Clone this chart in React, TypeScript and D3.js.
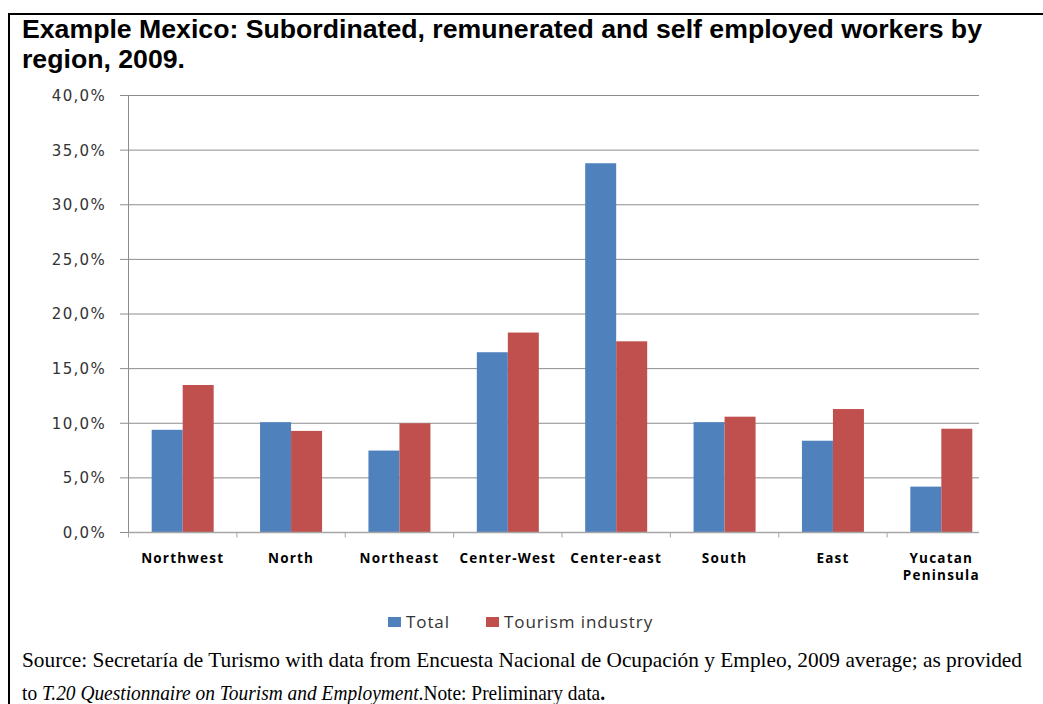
import React from "react";
import * as d3 from "d3";

const categories = ["Northwest", "North", "Northeast", "Center-West", "Center-east", "South", "East", "Yucatan Peninsula"];
const totalValues = [9.4, 10.1, 7.5, 16.5, 33.8, 10.1, 8.4, 4.2];
const tourismValues = [13.5, 9.3, 10.0, 18.3, 17.5, 10.6, 11.3, 9.5];
const yTicks = [0, 5, 10, 15, 20, 25, 30, 35, 40];
const seriesNames = ["Total", "Tourism industry"];
const seriesColors = ["#4F81BD", "#C0504D"];

export default function App() {
  const W = 1043, H = 704;
  const plotLeft = 128.5, plotRight = 979, bandRight = 995.5;
  const y = d3.scaleLinear().domain([0, 40]).range([532.5, 95.5]);
  const x = d3.scaleBand<string>().domain(categories).range([plotLeft, bandRight]).paddingInner(0).paddingOuter(0);
  const groupW = 62;
  const inner = d3.scaleBand<number>().domain([0, 1]).range([0, groupW]).padding(0);
  const groupOffset = (x.bandwidth() - groupW) / 2;
  const series = [totalValues, tourismValues];
  const fmt = (v: number) => v.toFixed(1).replace(".", ",") + "%";
  const grid = "#8c8c8c";
  const serif = "Liberation Serif, Times New Roman, serif";

  return (
    <svg width={W} height={H} style={{ position: "absolute", left: 0, top: 0, background: "#fff" }}>
      <rect x={0} y={0} width={W} height={H} fill="#fff" />
      {/* frame */}
      <line x1={8} x2={W} y1={14} y2={14} stroke="#000" strokeWidth={2} />
      <line x1={9} x2={9} y1={13} y2={H} stroke="#000" strokeWidth={2} />
      {/* title */}
      <text x={22} y={38} fontFamily="Liberation Sans, Arial, sans-serif" fontWeight="bold" fontSize={26}
        textLength={960} lengthAdjust="spacingAndGlyphs" fill="#000">
        Example Mexico: Subordinated, remunerated and self employed workers by
      </text>
      <text x={22} y={68} fontFamily="Liberation Sans, Arial, sans-serif" fontWeight="bold" fontSize={26}
        textLength={163} lengthAdjust="spacingAndGlyphs" fill="#000">
        region, 2009.
      </text>
      {/* gridlines and y labels */}
      {yTicks.map((t) => (
        <g key={t}>
          <line x1={120} x2={plotRight} y1={y(t)} y2={y(t)} stroke={grid} strokeWidth={1} />
          <text x={106} y={y(t)} dy="0.36em" textAnchor="end" fontFamily="DejaVu Sans, Verdana, sans-serif"
            fontSize={15} letterSpacing={1.3} fill="#333">
            {fmt(t)}
          </text>
        </g>
      ))}
      {/* y axis */}
      <line x1={plotLeft} x2={plotLeft} y1={y(40)} y2={y(0)} stroke={grid} strokeWidth={1} />
      {/* bars */}
      {categories.map((c, i) => (
        <g key={c}>
          {series.map((vals, s) => (
            <rect key={s} x={(x(c) as number) + groupOffset + (inner(s) as number)} y={y(vals[i])}
              width={inner.bandwidth()} height={y(0) - y(vals[i])} fill={seriesColors[s]} />
          ))}
        </g>
      ))}
      {/* x axis */}
      <line x1={plotLeft} x2={plotRight} y1={y(0)} y2={y(0)} stroke="#a6a6a6" strokeWidth={1.5} />
      {categories.map((c) => (
        <line key={"t" + c} x1={x(c) as number} x2={x(c) as number} y1={y(0)} y2={y(0) + 5} stroke="#a6a6a6" strokeWidth={1} />
      ))}
      {categories.map((c) => {
        const cx = (x(c) as number) + x.bandwidth() / 2;
        const parts = c === "Yucatan Peninsula" ? ["Yucatan", "Peninsula"] : [c];
        return (
          <text key={"l" + c} x={cx} y={563} textAnchor="middle" fontFamily="Open Sans, sans-serif" fontWeight="bold"
            fontSize={13.5} letterSpacing={1.2} fill="#000">
            {parts.map((p, k) => (
              <tspan key={k} x={cx} dy={k === 0 ? 0 : 17}>{p}</tspan>
            ))}
          </text>
        );
      })}
      {/* legend */}
      {seriesNames.map((n, s) => {
        const lx = s === 0 ? 388 : 486;
        return (
          <g key={n}>
            <rect x={lx} y={617} width={13} height={10} fill={seriesColors[s]} />
            <text x={lx + 18} y={622} dy="0.36em" fontFamily="Open Sans, sans-serif" fontSize={17}
              letterSpacing={0.9} fill="#333">{n}</text>
          </g>
        );
      })}
      {/* source */}
      <text x={22} y={667} fontFamily={serif} fontSize={21}
        textLength={1000} lengthAdjust="spacingAndGlyphs" fill="#000">
        Source: Secretaría de Turismo with data from Encuesta Nacional de Ocupación y Empleo, 2009 average; as provided
      </text>
      <text x={22} y={700} fontFamily={serif} fontSize={21}
        textLength={583} lengthAdjust="spacingAndGlyphs" fill="#000">
        to <tspan fontStyle="italic">T.20 Questionnaire on Tourism and Employment</tspan>.Note: Preliminary data<tspan fontWeight="bold">.</tspan>
      </text>
    </svg>
  );
}
